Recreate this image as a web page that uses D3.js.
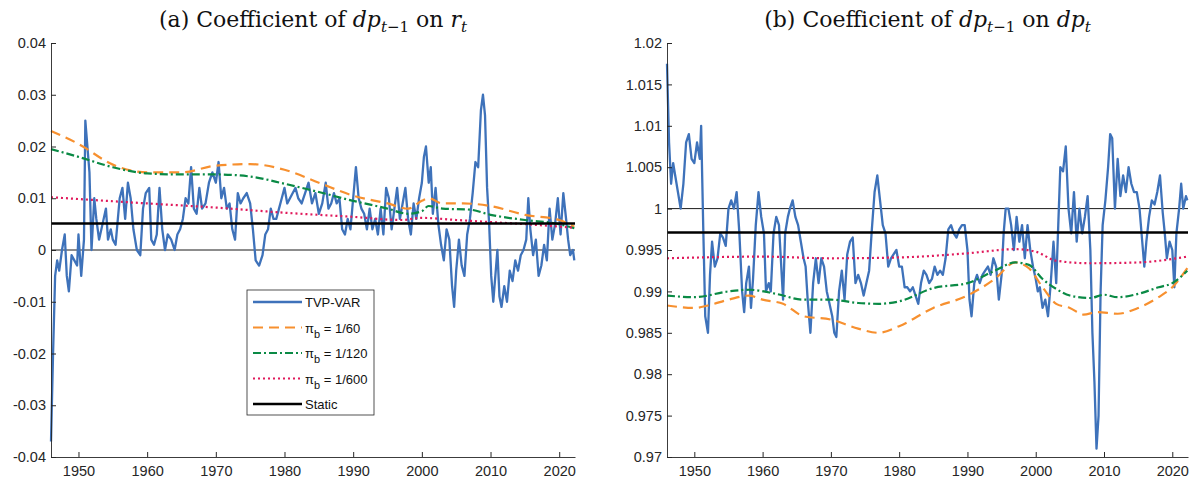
<!DOCTYPE html>
<html><head><meta charset="utf-8">
<script src="https://cdn.jsdelivr.net/npm/d3@7"></script>
<style>
body{margin:0;background:#fff}
text{font-family:"Liberation Sans",Arial,sans-serif}
</style></head>
<body><svg id="c" width="1198" height="484"></svg>
<script>
// panel (a): coefficient of dp_{t-1} on r_t
const aTvpYears = [1946.0,1946.3,1946.6,1946.9,1947.2,1947.6,1948.0,1948.3,1948.6,1949.0,1949.4,1949.8,1950.0,1950.4,1950.8,1951.0,1951.3,1951.6,1951.9,1952.3,1952.6,1953.0,1953.5,1954.0,1954.3,1954.7,1955.0,1955.4,1956.0,1956.4,1956.8,1957.2,1957.6,1958.0,1958.5,1959.0,1959.4,1959.8,1960.3,1960.6,1961.0,1961.4,1961.8,1962.2,1962.6,1963.0,1963.5,1964.0,1964.4,1964.8,1965.2,1965.6,1966.0,1966.4,1966.8,1967.2,1967.6,1968.0,1968.5,1969.0,1969.5,1970.0,1970.4,1970.8,1971.2,1971.6,1972.0,1972.4,1972.8,1973.2,1973.6,1974.0,1974.5,1975.0,1975.4,1975.8,1976.3,1976.8,1977.2,1977.6,1978.0,1978.4,1978.8,1979.2,1979.6,1980.0,1980.4,1980.8,1981.2,1981.6,1982.0,1982.5,1983.0,1983.5,1984.0,1984.5,1985.0,1985.5,1986.0,1986.4,1986.8,1987.2,1987.6,1988.0,1988.4,1988.8,1989.2,1989.6,1990.0,1990.4,1990.8,1991.2,1991.6,1992.0,1992.4,1992.8,1993.2,1993.6,1994.0,1994.4,1994.8,1995.2,1995.6,1996.0,1996.4,1996.8,1997.2,1997.6,1998.0,1998.4,1998.8,1999.2,1999.6,2000.0,2000.3,2000.6,2001.0,2001.3,2001.6,2002.0,2002.4,2002.8,2003.2,2003.6,2004.0,2004.4,2004.7,2005.0,2005.4,2005.8,2006.2,2006.6,2007.0,2007.4,2007.8,2008.2,2008.6,2008.9,2009.2,2009.5,2009.8,2010.1,2010.4,2010.7,2011.0,2011.3,2011.6,2012.0,2012.4,2012.8,2013.2,2013.6,2014.0,2014.4,2014.8,2015.2,2015.5,2015.8,2016.2,2016.6,2017.0,2017.4,2017.8,2018.2,2018.6,2019.0,2019.4,2019.8,2020.2,2020.6,2021.0,2021.3,2021.6,2022.0,2022.2];
const aTvp = [-0.037,-0.02,-0.005,-0.002,-0.004,0.0,0.003,-0.005,-0.008,-0.001,-0.002,-0.003,0.003,-0.005,0.002,0.025,0.02,0.015,0.0,0.01,0.006,0.002,0.005,0.008,0.002,0.004,0.002,0.001,0.01,0.012,0.006,0.013,0.01,0.004,0.0,-0.001,0.008,0.011,0.012,0.002,0.001,0.003,0.012,0.004,0.0,0.003,0.002,0.0,0.003,0.004,0.006,0.01,0.009,0.016,0.008,0.007,0.012,0.008,0.009,0.013,0.015,0.013,0.017,0.01,0.012,0.008,0.009,0.004,0.002,0.011,0.009,0.01,0.011,0.009,0.004,-0.002,-0.003,-0.001,0.003,0.004,0.008,0.006,0.006,0.008,0.01,0.012,0.009,0.01,0.011,0.012,0.01,0.009,0.011,0.013,0.009,0.011,0.007,0.009,0.013,0.008,0.009,0.011,0.009,0.01,0.004,0.003,0.006,0.004,0.01,0.016,0.01,0.008,0.007,0.004,0.008,0.004,0.006,0.003,0.008,0.003,0.012,0.01,0.004,0.008,0.012,0.006,0.009,0.012,0.006,0.003,0.009,0.006,0.01,0.013,0.018,0.02,0.013,0.016,0.007,0.012,0.005,0.001,-0.002,0.004,0.002,-0.007,-0.011,-0.004,0.002,-0.003,-0.005,0.003,0.006,0.011,0.017,0.016,0.027,0.03,0.026,0.012,0.005,-0.005,-0.01,-0.005,0.0,-0.009,-0.011,-0.007,-0.01,-0.004,-0.006,-0.002,-0.004,-0.001,0.0,0.002,0.01,0.004,-0.001,0.002,-0.005,-0.003,0.001,-0.002,0.008,0.002,0.005,0.01,0.003,0.011,0.006,0.002,-0.001,0.0,-0.002];
const aP60Years = [1946,1950,1955,1960,1965,1970,1975,1980,1985,1990,1995,1998,2000,2001,2003,2006,2010,2015,2020,2022.2];
const aP60 = [0.023,0.0205,0.0165,0.015,0.015,0.0163,0.0166,0.0155,0.013,0.0105,0.009,0.008,0.0095,0.01,0.009,0.009,0.0085,0.0068,0.0058,0.0045];
const aP120Years = [1946,1950,1955,1960,1965,1970,1975,1980,1985,1990,1995,1998,2000,2001,2003,2007,2010,2015,2020,2022.2];
const aP120 = [0.0195,0.018,0.016,0.0148,0.0146,0.0146,0.0142,0.0128,0.0112,0.0095,0.008,0.007,0.0075,0.0085,0.008,0.0078,0.0068,0.0058,0.005,0.0042];
const aP600Years = [1946,1960,1970,1980,1990,1997,2000,2005,2010,2015,2022.2];
const aP600 = [0.0102,0.009,0.0082,0.0072,0.0064,0.0058,0.0062,0.0058,0.0054,0.005,0.0043];
const aStatic = 0.0051;
const aTicks = [-0.04,-0.03,-0.02,-0.01,0,0.01,0.02,0.03,0.04];

// panel (b): coefficient of dp_{t-1} on dp_t
const bTvpYears = [1946.0,1946.3,1946.6,1946.9,1947.2,1947.6,1948.0,1948.4,1948.8,1949.2,1949.6,1950.0,1950.4,1950.8,1951.0,1951.3,1951.6,1952.0,1952.3,1952.6,1953.0,1953.4,1953.8,1954.2,1954.6,1955.0,1955.4,1955.8,1956.2,1956.6,1957.0,1957.3,1957.6,1958.0,1958.3,1958.6,1959.0,1959.4,1959.8,1960.2,1960.5,1960.9,1961.2,1961.6,1962.0,1962.4,1962.8,1963.0,1963.3,1963.7,1964.0,1964.4,1964.8,1965.2,1965.6,1966.0,1966.3,1966.6,1967.0,1967.4,1967.8,1968.2,1968.6,1969.0,1969.4,1969.8,1970.2,1970.5,1970.8,1971.2,1971.6,1972.0,1972.4,1972.8,1973.2,1973.6,1974.0,1974.4,1974.8,1975.2,1975.6,1976.0,1976.4,1976.8,1977.2,1977.6,1978.0,1978.4,1978.8,1979.2,1979.6,1980.0,1980.4,1980.8,1981.2,1981.6,1982.0,1982.4,1982.8,1983.2,1983.6,1984.0,1984.4,1984.8,1985.2,1985.6,1986.0,1986.4,1986.8,1987.2,1987.6,1988.0,1988.4,1988.8,1989.2,1989.6,1990.0,1990.3,1990.6,1991.0,1991.4,1991.8,1992.2,1992.6,1993.0,1993.4,1993.8,1994.2,1994.6,1995.0,1995.3,1995.6,1996.0,1996.4,1996.8,1997.2,1997.6,1998.0,1998.4,1998.8,1999.2,1999.6,2000.0,2000.3,2000.6,2001.0,2001.4,2001.8,2002.2,2002.6,2003.0,2003.3,2003.6,2004.0,2004.4,2004.8,2005.2,2005.6,2006.0,2006.4,2006.8,2007.2,2007.6,2008.0,2008.3,2008.6,2008.9,2009.2,2009.5,2009.8,2010.2,2010.6,2010.9,2011.2,2011.6,2012.0,2012.4,2012.8,2013.2,2013.6,2014.0,2014.4,2014.8,2015.2,2015.6,2015.9,2016.2,2016.6,2017.0,2017.4,2017.8,2018.2,2018.6,2018.9,2019.2,2019.6,2020.0,2020.3,2020.6,2021.0,2021.3,2021.6,2022.0,2022.2];
const bTvp = [1.0175,1.008,1.003,1.0055,1.004,1.002,1.0,1.003,1.008,1.009,1.006,1.0055,1.008,1.006,1.010,0.998,0.987,0.985,0.992,0.996,0.993,0.994,0.997,0.9965,0.9955,1.0,1.001,1.0,1.002,0.997,0.99,0.9875,0.991,0.993,0.988,0.9915,0.998,1.002,0.999,0.997,0.99,0.991,0.99,0.997,0.999,0.998,0.992,0.989,0.997,0.999,1.0,1.001,0.999,0.998,0.996,0.994,0.993,0.989,0.985,0.991,0.994,0.991,0.994,0.993,0.99,0.9885,0.987,0.985,0.9845,0.99,0.9925,0.989,0.9945,0.996,0.9965,0.991,0.992,0.991,0.9895,0.991,0.9925,0.9975,1.002,1.004,1.001,0.998,0.997,0.993,0.994,0.9945,0.995,0.993,0.993,0.9905,0.9905,0.990,0.9905,0.9895,0.9885,0.991,0.9925,0.992,0.991,0.9915,0.993,0.992,0.9925,0.992,0.994,0.9975,0.998,0.997,0.9965,0.9975,0.998,0.998,0.995,0.989,0.987,0.991,0.992,0.991,0.992,0.9925,0.993,0.992,0.994,0.993,0.989,0.992,0.997,1.0,1.0,0.998,0.995,0.999,0.996,0.998,0.994,0.998,0.995,0.993,0.9915,0.99,0.9905,0.988,0.989,0.987,0.991,0.996,0.991,0.998,1.005,1.0045,1.0075,1.0,0.997,1.002,0.996,1.0,0.997,0.999,1.0015,0.995,0.985,0.979,0.971,0.975,0.99,0.998,1.001,1.005,1.009,1.0085,1.0,1.006,1.0015,1.004,1.002,1.005,1.003,1.002,1.002,1.0,0.996,0.993,0.996,0.999,1.001,1.0005,1.002,1.004,0.9995,0.997,0.994,0.996,0.995,0.9905,0.997,1.0,1.003,1.0,1.0015,1.001];
const bP60Years = [1946,1950,1952,1955,1958,1960,1963,1966,1970,1974,1977,1980,1985,1990,1994,1997,1999,2001,2003,2005,2007,2009,2012,2015,2018,2020,2022.2];
const bP60 = [0.9883,0.988,0.9883,0.989,0.9895,0.989,0.9885,0.987,0.9866,0.9855,0.985,0.9858,0.988,0.9895,0.9915,0.9935,0.9928,0.9905,0.9885,0.988,0.9872,0.9875,0.9873,0.988,0.9893,0.9905,0.9928];
const bP120Years = [1946,1950,1955,1958,1962,1966,1970,1974,1977,1980,1985,1990,1994,1997,1999,2001,2003,2005,2008,2010,2012,2015,2018,2020,2022.2];
const bP120 = [0.9895,0.9893,0.990,0.9902,0.9897,0.989,0.989,0.9886,0.9885,0.9888,0.9904,0.991,0.9925,0.9935,0.9932,0.9915,0.9903,0.9895,0.9892,0.9896,0.9893,0.9897,0.9905,0.991,0.9925];
const bP600Years = [1946,1960,1970,1980,1990,1997,2000,2003,2008,2015,2022.2];
const bP600 = [0.994,0.9942,0.994,0.9941,0.9946,0.9951,0.9948,0.9937,0.9934,0.9935,0.9942];
const bStatic = 0.9971;
const bTicks = [0.97,0.975,0.98,0.985,0.99,0.995,1,1.005,1.01,1.015,1.02];

const xTicks = [1950,1960,1970,1980,1990,2000,2010,2020];
const colors = {tvp:"#3e72ba", p60:"#f7902f", p120:"#0a8a45", p600:"#e0195b"};
const svg = d3.select("#c");

function zip(xs, ys){ return xs.map((x,i)=>[x, ys[i]]); }

function panel(o){
  const x = d3.scaleLinear().domain([1946, 2022.3]).range([o.left, o.right]);
  const y = d3.scaleLinear().domain(o.domain).range([457, 43]);
  const g = svg.append("g");

  // reference lines
  g.append("line").attr("x1",o.left).attr("x2",o.right).attr("y1",y(o.ref)).attr("y2",y(o.ref))
    .attr("stroke","#000").attr("stroke-width",0.9);

  const lin = d3.line().x(d=>x(d[0])).y(d=>y(d[1]));
  const smooth = d3.line().x(d=>x(d[0])).y(d=>y(d[1])).curve(d3.curveMonotoneX);

  g.append("path").attr("d",lin(zip(o.tvpYears,o.tvp))).attr("fill","none")
    .attr("stroke",colors.tvp).attr("stroke-width",2.3).attr("stroke-linejoin","round");
  g.append("path").attr("d",smooth(zip(o.p60Years,o.p60))).attr("fill","none")
    .attr("stroke",colors.p60).attr("stroke-width",2.2).attr("stroke-dasharray","10,6");
  g.append("path").attr("d",smooth(zip(o.p120Years,o.p120))).attr("fill","none")
    .attr("stroke",colors.p120).attr("stroke-width",2.2).attr("stroke-dasharray","8,3,2,3");
  g.append("path").attr("d",smooth(zip(o.p600Years,o.p600))).attr("fill","none")
    .attr("stroke",colors.p600).attr("stroke-width",2.2).attr("stroke-dasharray","2,3");
  g.append("line").attr("x1",o.left).attr("x2",o.right).attr("y1",y(o.stat)).attr("y2",y(o.stat))
    .attr("stroke","#000").attr("stroke-width",2.5);

  // axes
  const ax = g.append("g").attr("transform",`translate(0,457)`)
    .call(d3.axisBottom(x).tickValues(xTicks).tickFormat(d3.format("d")).tickSizeInner(-5).tickSizeOuter(0).tickPadding(9));
  const ay = g.append("g").attr("transform",`translate(${o.left},0)`)
    .call(d3.axisLeft(y).tickValues(o.ticks).tickFormat(d=>String(+d.toFixed(3))).tickSizeInner(-5).tickSizeOuter(0).tickPadding(5));
  [ax,ay].forEach(a=>{
    a.select(".domain").attr("stroke","#262626").attr("stroke-width",0.9);
    a.selectAll(".tick line").attr("stroke","#262626");
    a.selectAll("text").attr("fill","#262626").style("font-size","14.5px").style("font-family","'Liberation Sans',Arial,sans-serif");
  });

  // title
  const t = svg.append("text").attr("x",(o.left+o.right)/2).attr("y",27).attr("text-anchor","middle")
    .style("font-family","'DejaVu Serif','Liberation Serif',serif").style("font-size","22px").attr("fill","#111");
  t.append("tspan").text(o.label+" Coefficient of ");
  t.append("tspan").style("font-style","italic").text("dp");
  t.append("tspan").style("font-style","italic").style("font-size","15px").attr("dy",5).text("t");
  t.append("tspan").style("font-size","15px").text("−1");
  t.append("tspan").attr("dy",-5).text(" on ");
  o.tgt.forEach((s,i)=>{
    const sp = t.append("tspan").style("font-style","italic");
    if(i===1) sp.style("font-size","15px").attr("dy",5);
    sp.text(s);
  });
  return {x,y};
}

panel({left:51,right:575,domain:[-0.04,0.04],ref:0,ticks:aTicks,label:"(a)",tgt:["r","t"],
  tvpYears:aTvpYears,tvp:aTvp,p60Years:aP60Years,p60:aP60,p120Years:aP120Years,p120:aP120,
  p600Years:aP600Years,p600:aP600,stat:aStatic});
panel({left:667,right:1188,domain:[0.97,1.02],ref:1,ticks:bTicks,label:"(b)",tgt:["dp","t"],
  tvpYears:bTvpYears,tvp:bTvp,p60Years:bP60Years,p60:bP60,p120Years:bP120Years,p120:bP120,
  p600Years:bP600Years,p600:bP600,stat:bStatic});

// legend
const lg = svg.append("g").attr("transform","translate(247,290)");
lg.append("rect").attr("width",127).attr("height",125).attr("fill","#fff").attr("stroke","#262626").attr("stroke-width",0.8);
const items = [
  {c:colors.tvp,w:2.3,d:null,t:"TVP-VAR"},
  {c:colors.p60,w:2.2,d:"10,6",t:"1/60"},
  {c:colors.p120,w:2.2,d:"8,3,2,3",t:"1/120"},
  {c:colors.p600,w:2.2,d:"2,3",t:"1/600"},
  {c:"#000",w:2.5,d:null,t:"Static"}
];
items.forEach((it,i)=>{
  const yy = 12 + i*25.5;
  lg.append("line").attr("x1",6).attr("x2",55).attr("y1",yy).attr("y2",yy)
    .attr("stroke",it.c).attr("stroke-width",it.w).attr("stroke-dasharray",it.d);
  const tx = lg.append("text").attr("x",58).attr("y",yy+5).style("font-size","13px").attr("fill","#111");
  if(i===0||i===4) tx.text(it.t);
  else {
    tx.append("tspan").text("π");
    tx.append("tspan").attr("dy",5).style("font-size","11px").text("b");
    tx.append("tspan").attr("dy",-5).text(" = "+it.t);
  }
});
</script></body></html>
